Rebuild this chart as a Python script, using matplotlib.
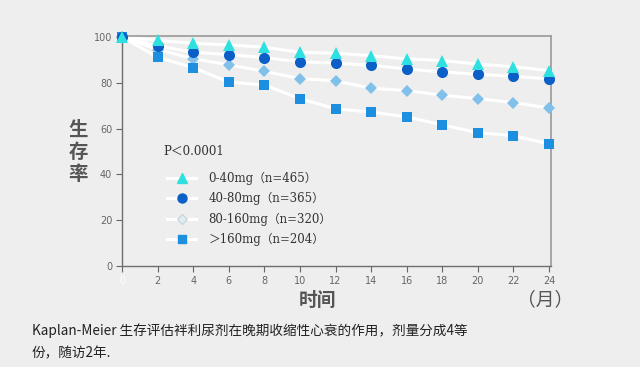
import matplotlib
matplotlib.use("Agg")
import matplotlib.pyplot as plt
from matplotlib.lines import Line2D

plt.rcParams['font.family'] = ['Noto Sans CJK SC', 'DejaVu Sans']

months = [0, 2, 4, 6, 8, 10, 12, 14, 16, 18, 20, 22, 24]
x_ticks = [0, 2, 4, 6, 8, 10, 12, 14, 16, 18, 20, 22, 24]
y_ticks = [0, 20, 40, 60, 80, 100]

s_0_40 = [100, 98.5, 97.2, 96.5, 95.5, 93.3, 92.9, 91.8, 90.4, 89.7, 88.1, 87.0, 85.3]
s_40_80 = [100, 96.1, 93.3, 92.3, 91.0, 89.1, 88.6, 87.6, 86.0, 84.7, 83.7, 82.8, 81.7]
s_80_160 = [100, 94.5, 90.5, 87.8, 85.0, 81.8, 80.8, 77.6, 76.6, 74.5, 73.1, 71.3, 69.0]
s_160 = [100, 91.1, 86.6, 80.3, 79.0, 73.1, 68.6, 67.2, 65.1, 61.6, 58.2, 56.9, 53.3]

labels = ['0-40mg（n=465）', '40-80mg（n=365）', '80-160mg（n=320）', '＞160mg（n=204）']

fig = plt.figure(figsize=(6.4, 3.67), dpi=100, facecolor='#eeeeee')
ax = fig.add_axes([122/640, 1-266/367, (551-122)/640, (266-36)/367])
ax.set_facecolor('none')

series = [
    (s_80_160, 'D', '#80c0ea', 6),
    (s_160, 's', '#1c8fe0', 7),
    (s_40_80, 'o', '#0b5fc6', 8),
    (s_0_40, '^', '#2fe0e0', 8),
]
for vals, mk, col, ms in series:
    ax.plot(months, vals, color='white', lw=2.2, zorder=2)
for vals, mk, col, ms in series:
    ax.plot(months, vals, ls='none', marker=mk, color=col, ms=ms,
            markeredgewidth=0, zorder=3, clip_on=False)

ax.set_xlim(0, 24.11)
ax.set_ylim(0, 100.4)
ax.set_xticks(x_ticks)
ax.set_yticks(y_ticks)
ax.set_xticklabels([str(v) for v in x_ticks], family='DejaVu Sans')
ax.set_yticklabels([str(v) for v in y_ticks], family='DejaVu Sans')
ax.tick_params(axis='both', labelsize=7, colors='#666666', length=4, width=0.8, pad=3)
ax.get_xticklabels()[0].set_color('white')
for s in ['left', 'bottom']:
    ax.spines[s].set_color('#6e6e6e')
    ax.spines[s].set_linewidth(1.0)
for s in ['top', 'right']:
    ax.spines[s].set_color('#999999')
    ax.spines[s].set_linewidth(1.2)

# p value
ax.text(2.3, 50.0, 'P＜0.0001', fontsize=8.5, color='#333333',
        family=['DejaVu Serif', 'Noto Sans CJK SC'], va='center')

handles = [
    Line2D([], [], color='white', lw=2.2, marker='^', mfc='#2fe0e0', mec='#2fe0e0', ms=6.5),
    Line2D([], [], color='white', lw=2.2, marker='o', mfc='#0b5fc6', mec='#0b5fc6', ms=6.5),
    Line2D([], [], color='white', lw=2.2, marker='D', mfc='#e2ebf0', mec='#c8d8e0', ms=5),
    Line2D([], [], color='white', lw=2.2, marker='s', mfc='#1c8fe0', mec='#1c8fe0', ms=5.5),
]
leg = ax.legend(handles, labels, loc='upper left', bbox_to_anchor=(0.095, 0.43),
                frameon=False, handlelength=2.45, labelspacing=0.62,
                handletextpad=1.0, borderaxespad=0,
                prop={'family': ['DejaVu Serif', 'Noto Sans CJK SC'], 'size': 8.5})
for t in leg.get_texts():
    t.set_color('#333333')

fig.text(78/640, 1-152/367, '生\n存\n率', fontsize=14, color='#555555',
         ha='center', va='center', fontweight='bold', linespacing=1.2)
fig.text(318/640, 1-300/367, '时间', fontsize=13.5, color='#555555',
         ha='center', va='center', fontweight='bold')
fig.text(545/640, 1-300/367, '（月）', fontsize=13.5, color='#555555',
         ha='center', va='center')
fig.text(32/640, 1-331/367, 'Kaplan-Meier 生存评估袢利尿剂在晚期收缩性心衰的作用，剂量分成4等',
         fontsize=9.8, color='#222222', ha='left', va='center')
fig.text(32/640, 1-353/367, '份，随访2年.', fontsize=9.8, color='#222222',
         ha='left', va='center')

fig.savefig('out.png', dpi=100, facecolor=fig.get_facecolor())
